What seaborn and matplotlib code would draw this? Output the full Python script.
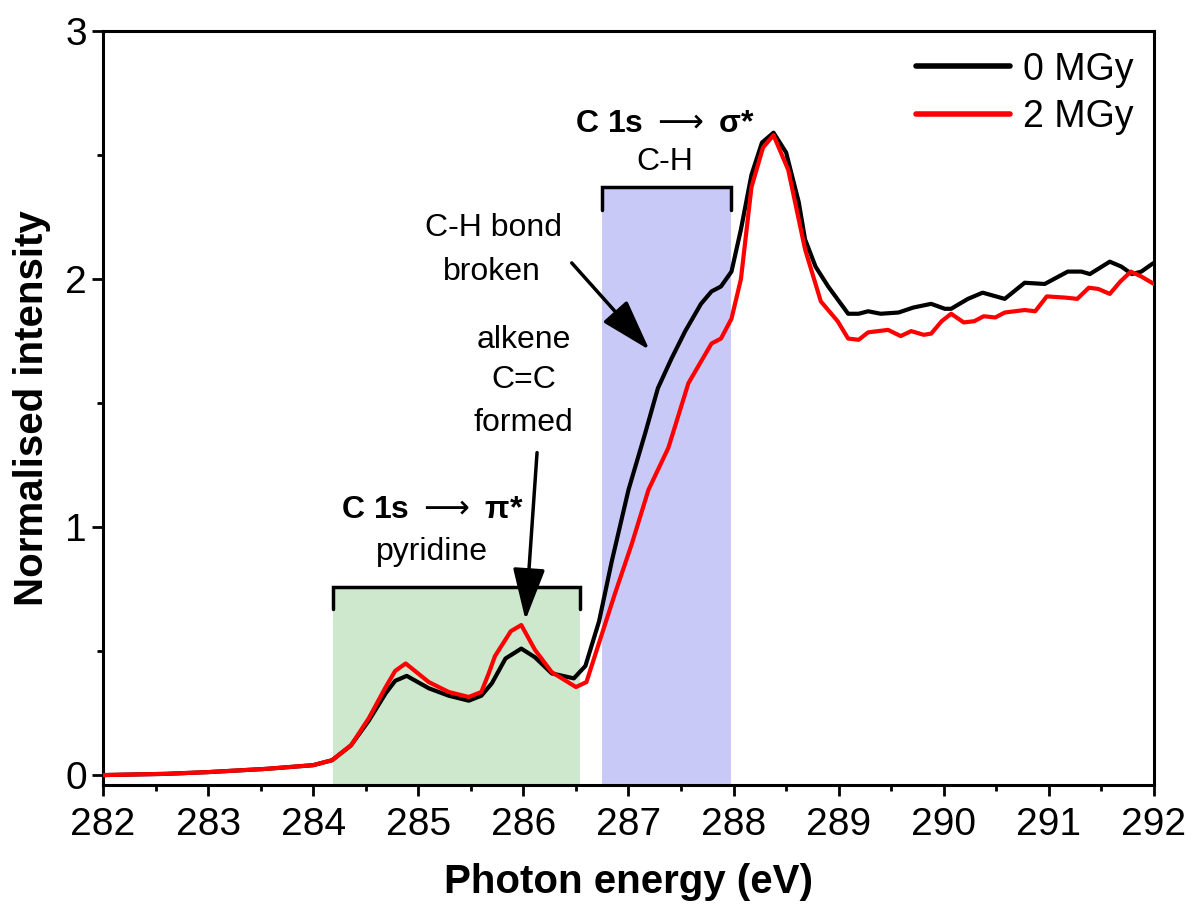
import numpy as np
import pandas as pd
import matplotlib
matplotlib.use("Agg")
import matplotlib.pyplot as plt
import seaborn as sns

# 0 MGy spectrum (black)
energy_0 = [282.0, 282.6, 283.0, 283.55, 284.0, 284.18, 284.36, 284.53, 284.69, 284.78,
            284.89, 285.1, 285.29, 285.48, 285.6, 285.7, 285.83, 285.98, 286.11, 286.27,
            286.48, 286.59, 286.72, 286.84, 287.0, 287.16, 287.28, 287.41, 287.54, 287.69,
            287.79, 287.88, 287.98, 288.07, 288.17, 288.27, 288.38, 288.5, 288.62, 288.68,
            288.78, 288.9, 289.09, 289.19, 289.28, 289.4, 289.57, 289.71, 289.88, 290.01,
            290.07, 290.23, 290.37, 290.58, 290.77, 290.96, 291.18, 291.31, 291.39, 291.58,
            291.69, 291.79, 291.88, 291.98, 292.0]
intensity_0 = [0.0, 0.005, 0.012, 0.025, 0.04, 0.06, 0.12, 0.22, 0.33, 0.38,
               0.40, 0.35, 0.32, 0.30, 0.32, 0.37, 0.47, 0.51, 0.475, 0.41,
               0.39, 0.44, 0.62, 0.86, 1.15, 1.38, 1.56, 1.68, 1.79, 1.90,
               1.95, 1.97, 2.03, 2.20, 2.42, 2.55, 2.59, 2.51, 2.31, 2.16,
               2.05, 1.97, 1.86, 1.86, 1.87, 1.86, 1.865, 1.885, 1.90, 1.88,
               1.88, 1.92, 1.945, 1.92, 1.985, 1.98, 2.03, 2.03, 2.02, 2.07,
               2.05, 2.02, 2.03, 2.06, 2.065]

# 2 MGy spectrum (red)
energy_2 = [282.0, 282.6, 283.0, 283.55, 284.0, 284.18, 284.36, 284.53, 284.69, 284.78,
            284.88, 285.1, 285.29, 285.48, 285.6, 285.67, 285.73, 285.88, 285.98, 286.11,
            286.27, 286.5, 286.6, 286.71, 286.87, 287.03, 287.19, 287.38, 287.57, 287.79,
            287.88, 287.98, 288.07, 288.17, 288.28, 288.38, 288.52, 288.68, 288.83, 288.99,
            289.09, 289.19, 289.28, 289.47, 289.59, 289.69, 289.81, 289.88, 289.98, 290.07,
            290.19, 290.29, 290.38, 290.49, 290.58, 290.77, 290.87, 290.98, 291.16, 291.27,
            291.38, 291.47, 291.58, 291.68, 291.78, 291.88, 291.98, 292.0]
intensity_2 = [0.0, 0.005, 0.012, 0.025, 0.04, 0.06, 0.12, 0.23, 0.355, 0.42,
               0.45, 0.375, 0.335, 0.315, 0.335, 0.41, 0.48, 0.58, 0.605, 0.505,
               0.415, 0.355, 0.375, 0.52, 0.73, 0.93, 1.15, 1.32, 1.58, 1.74,
               1.76, 1.84, 2.0, 2.37, 2.53, 2.58, 2.44, 2.12, 1.91, 1.83,
               1.76, 1.755, 1.785, 1.795, 1.77, 1.79, 1.775, 1.78, 1.83, 1.86,
               1.825, 1.83, 1.85, 1.845, 1.865, 1.875, 1.87, 1.93, 1.925, 1.92,
               1.965, 1.96, 1.94, 1.99, 2.03, 2.01, 1.985, 1.98]

doses = ["0 MGy", "2 MGy"]
colors = ["black", "red"]

# shaded regions: (x start, x end, bracket height)
pi_region = (284.19, 286.54, 0.758)
sigma_region = (286.75, 287.98, 2.37)

df = pd.concat([
    pd.DataFrame({"energy": energy_0, "intensity": intensity_0, "dose": doses[0]}),
    pd.DataFrame({"energy": energy_2, "intensity": intensity_2, "dose": doses[1]}),
])

sns.set_style("ticks")
plt.rcParams["font.family"] = ["Liberation Sans", "DejaVu Sans"]
plt.rcParams.update({"text.color": "black", "axes.labelcolor": "black",
                     "xtick.color": "black", "ytick.color": "black",
                     "axes.edgecolor": "black"})

fig = plt.figure(figsize=(11.92, 9.09), dpi=100)
ax = fig.add_axes([0.0864, 0.1364, 0.8817, 0.8295])

ymin, ymax = -0.04, 3.0
ax.set_xlim(282, 292)
ax.set_ylim(ymin, ymax)

# shaded boxes with brackets
for (x0, x1, top), col in [(pi_region, "#cde8cd"), (sigma_region, "#c9c9f8")]:
    ax.fill_between([x0, x1], ymin, top, color=col, lw=0, zorder=0)
    ax.plot([x0, x0, x1, x1], [top - 0.09, top, top, top - 0.09], color="black",
            lw=2.5, solid_joinstyle="miter", zorder=1)

sns.lineplot(data=df, x="energy", y="intensity", hue="dose", palette=dict(zip(doses, colors)),
             lw=3, sort=False, estimator=None, ax=ax, zorder=3)

# text annotations (thin arrow between bold words)
ax.text(287.35, 2.625, r"C 1s $\longrightarrow$ σ*", ha="center", va="center", fontsize=23,
        fontweight="bold")
ax.text(287.35, 2.47, "C-H", ha="center", va="center", fontsize=23)
ax.text(285.13, 1.07, r"C 1s $\longrightarrow$ π*", ha="center", va="center", fontsize=23,
        fontweight="bold")
ax.text(285.13, 0.90, "pyridine", ha="center", va="center", fontsize=23)
ax.text(285.72, 2.205, "C-H bond", ha="center", va="center", fontsize=23)
ax.text(285.70, 2.03, "broken", ha="center", va="center", fontsize=23)
ax.text(286.0, 1.754, "alkene", ha="center", va="center", fontsize=23)
ax.text(286.0, 1.593, "C=C", ha="center", va="center", fontsize=23)
ax.text(286.0, 1.42, "formed", ha="center", va="center", fontsize=23)

arrow_kw = dict(arrowstyle="-|>,head_length=1.6,head_width=0.5", lw=2.5, color="black",
                mutation_scale=20, shrinkA=0, shrinkB=0)
ax.annotate("", xy=(287.2, 1.714), xytext=(286.46, 2.065), arrowprops=arrow_kw, zorder=4)
ax.annotate("", xy=(286.02, 0.625), xytext=(286.13, 1.30), arrowprops=arrow_kw, zorder=4)

# axes styling
ax.set_xticks(np.arange(282, 293, 1))
ax.set_xticks(np.arange(282.5, 292, 1), minor=True)
ax.set_yticks([0, 1, 2, 3])
ax.set_yticks([0.5, 1.5, 2.5], minor=True)
ax.tick_params(axis="both", which="major", length=8, width=2, labelsize=28, direction="out")
ax.tick_params(axis="x", which="major", pad=8)
ax.tick_params(axis="both", which="minor", length=4.5, width=2, direction="out")
for sp in ax.spines.values():
    sp.set_linewidth(2.2)
    sp.set_color("black")
    sp.set_visible(True)

ax.set_xlabel("Photon energy (eV)", fontsize=29, fontweight="bold", labelpad=14)
ax.set_ylabel("Normalised intensity", fontsize=29, fontweight="bold", labelpad=10)

leg = ax.legend(loc="upper right", frameon=False, fontsize=27, handlelength=2.5,
                handletextpad=0.35, borderaxespad=0.15, labelspacing=0.3)
for line in leg.get_lines():
    line.set_linewidth(4)

fig.savefig("out.png", dpi=100)
